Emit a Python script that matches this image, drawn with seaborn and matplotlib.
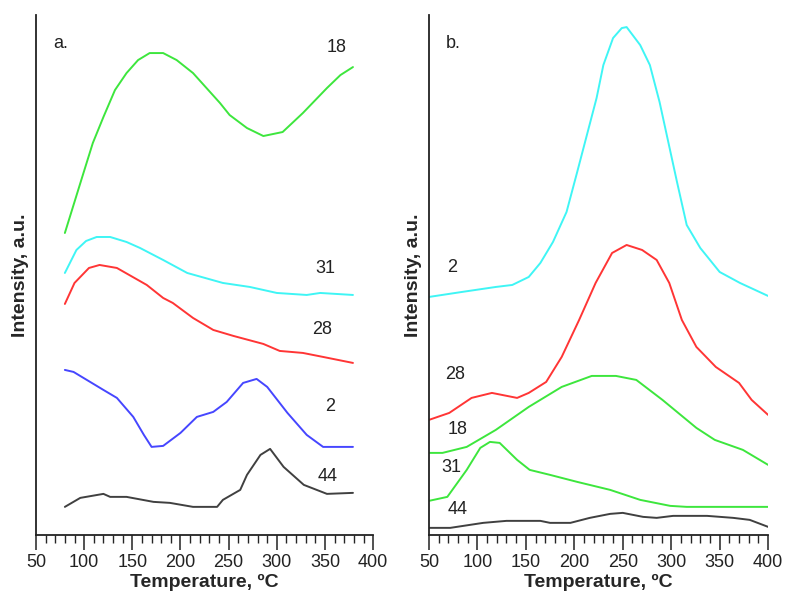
import matplotlib
matplotlib.use("Agg")
import matplotlib.pyplot as plt
import seaborn as sns
import pandas as pd
from matplotlib.ticker import MultipleLocator

# Panel a - temperatures and intensities (a.u.)
a18_t = [80, 98, 109, 120, 132, 144, 156, 168, 182, 196, 213, 227, 241, 251, 269, 286, 306, 327, 352, 366, 379]
a18_i = [302, 358, 392, 418, 445, 462, 475, 482, 482, 475, 462, 447, 432, 420, 407, 399, 403, 422, 447, 460, 468]

a31_t = [80, 92, 102, 113, 127, 144, 158, 182, 207, 244, 272, 300, 331, 345, 379]
a31_i = [262, 285, 294, 298, 298, 293, 287, 275, 262, 252, 248, 242, 240, 242, 240]

a28_t = [80, 90, 105, 116, 134, 165, 182, 192, 213, 234, 255, 286, 303, 327, 348, 379]
a28_i = [231, 252, 267, 270, 267, 250, 237, 232, 217, 205, 199, 191, 184, 182, 178, 172]

a2_t = [80, 89, 120, 134, 151, 162, 170, 182, 200, 217, 234, 248, 265, 279, 290, 311, 331, 348, 379]
a2_i = [165, 163, 145, 137, 118, 100, 88, 89, 102, 118, 123, 133, 152, 156, 148, 122, 100, 88, 88]

a44_t = [80, 96, 120, 127, 144, 172, 189, 213, 238, 244, 262, 269, 283, 293, 307, 328, 352, 379]
a44_i = [28, 37, 41, 38, 38, 33, 32, 28, 28, 35, 45, 60, 80, 86, 68, 50, 41, 42]

# Panel b
b2_t = [50, 84, 119, 136, 153, 165, 178, 192, 203, 213, 223, 230, 240, 249, 254, 268, 278,
        288, 297, 306, 316, 330, 350, 371, 400]
b2_i = [238, 243, 248, 250, 258, 272, 293, 323, 363, 400, 437, 470, 497, 507, 508, 490, 470,
        433, 393, 353, 310, 287, 263, 252, 239]

b28_t = [50, 71, 94, 115, 141, 153, 171, 187, 205, 222, 239, 254, 270, 285, 298, 311, 326,
         346, 370, 383, 400]
b28_i = [115, 122, 137, 142, 137, 142, 153, 178, 215, 252, 282, 290, 285, 275, 252, 215, 188,
         168, 152, 135, 120]

b18_t = [50, 64, 89, 119, 153, 187, 218, 243, 264, 291, 326, 345, 374, 400]
b18_i = [82, 82, 88, 105, 128, 148, 159, 159, 155, 135, 107, 95, 85, 70]

b31_t = [50, 69, 89, 103, 113, 123, 141, 154, 175, 203, 237, 268, 299, 316, 400]
b31_i = [34, 38, 65, 87, 93, 92, 75, 65, 60, 53, 45, 35, 29, 28, 28]

b44_t = [50, 72, 106, 130, 165, 175, 196, 216, 237, 250, 271, 285, 302, 337, 364, 381, 400]
b44_i = [7, 7, 12, 14, 14, 12, 12, 17, 21, 22, 18, 17, 19, 19, 17, 15, 8]

GREEN = "#3de63d"
CYAN = "#3ff5f5"
RED = "#ff3535"
BLUE = "#4646ff"
BLACK = "#404040"

panel_a = [("18", a18_t, a18_i, GREEN), ("31", a31_t, a31_i, CYAN),
           ("28", a28_t, a28_i, RED), ("2", a2_t, a2_i, BLUE),
           ("44", a44_t, a44_i, BLACK)]
panel_b = [("2", b2_t, b2_i, CYAN), ("28", b28_t, b28_i, RED),
           ("18", b18_t, b18_i, GREEN), ("31", b31_t, b31_i, GREEN),
           ("44", b44_t, b44_i, BLACK)]

# label positions (temperature, intensity)
labels_a = {"18": (362, 488), "31": (350, 266), "28": (347, 205), "2": (355, 128), "44": (353, 58)}
labels_b = {"2": (74, 267), "28": (77, 160), "18": (80, 105), "31": (73, 67), "44": (80, 25)}

sns.set_style("ticks")
plt.rcParams["font.family"] = ["Liberation Sans", "DejaVu Sans"]

fig = plt.figure(figsize=(7.87, 6.03), dpi=100)
ax_a = fig.add_axes([0.0457, 0.113, 0.4285, 0.862])
ax_b = fig.add_axes([0.545, 0.113, 0.431, 0.862])


def draw_panel(ax, curves, labels, tag):
    for name, t, i, col in curves:
        df = pd.DataFrame({"T": t, "I": i})
        sns.lineplot(data=df, x="T", y="I", color=col, linewidth=1.4, ax=ax,
                     estimator=None, sort=False)
    for name, (tx, ty) in labels.items():
        ax.text(tx, ty, name, fontsize=13, color="#222222", ha="center", va="center")
    ax.text(0.05, 0.945, tag, transform=ax.transAxes, fontsize=13, color="#222222",
            ha="left", va="center")
    ax.set_xlim(50, 400)
    ax.set_ylim(0, 520)
    ax.xaxis.set_major_locator(MultipleLocator(50))
    ax.xaxis.set_minor_locator(MultipleLocator(10))
    ax.tick_params(axis="x", which="major", length=11, width=1.1, labelsize=13,
                   colors="#222222", pad=3)
    ax.tick_params(axis="x", which="minor", length=5.5, width=1.0)
    ax.set_yticks([])
    ax.set_xlabel("Temperature, ºC", fontsize=14, fontweight="bold", labelpad=2)
    ax.set_ylabel("Intensity, a.u.", fontsize=14, fontweight="bold", labelpad=5)
    for side in ["top", "right"]:
        ax.spines[side].set_visible(False)
    for side in ["left", "bottom"]:
        ax.spines[side].set_linewidth(1.3)
        ax.spines[side].set_color("#222222")


draw_panel(ax_a, panel_a, labels_a, "a.")
draw_panel(ax_b, panel_b, labels_b, "b.")

fig.savefig("out.png", dpi=100)
